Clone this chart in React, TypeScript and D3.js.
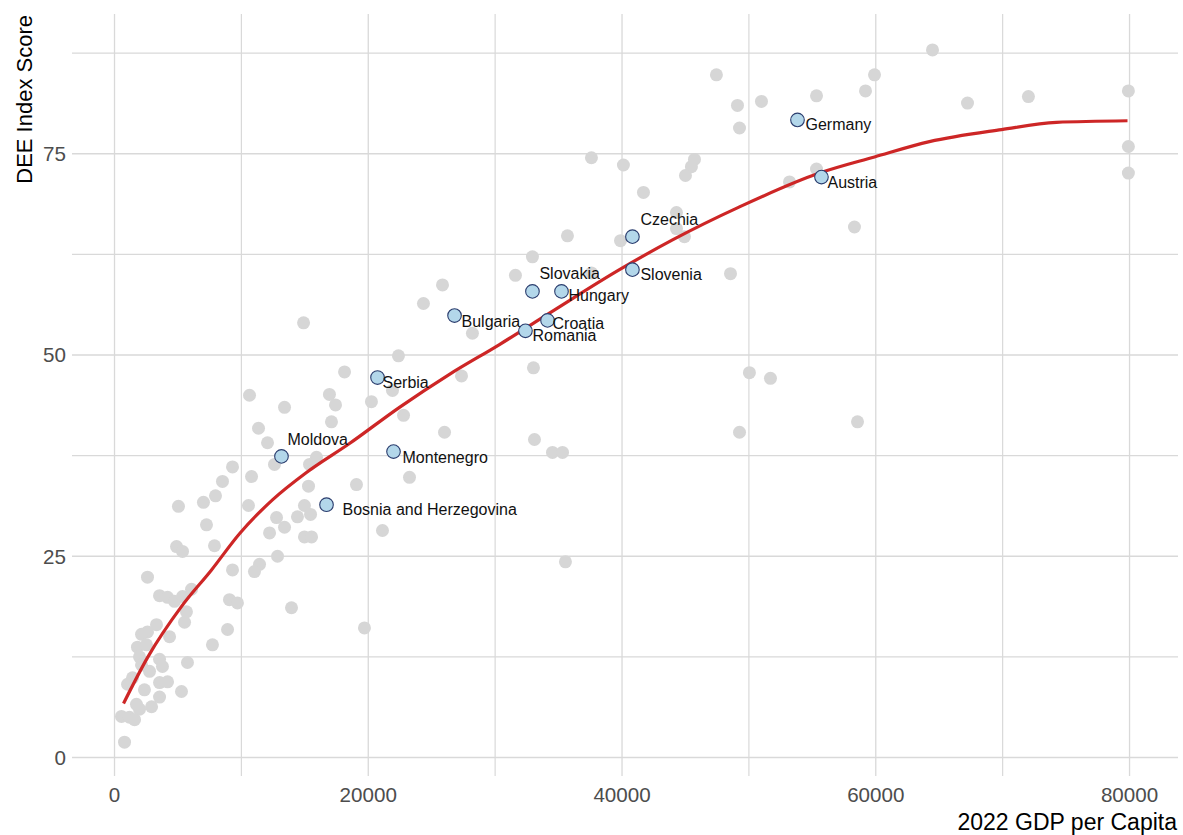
import React from "react";
import * as d3 from "d3";

// Background countries: 2022 GDP per capita and DEE index score
const gdp = [
  64470, 47440, 59900, 59190, 55330, 72030, 50990, 49100, 67230, 49260,
  79910, 79910, 79910, 37590, 40110, 45710, 45470, 45000, 41690, 55330,
  53200, 58320, 35700, 39880, 44290, 44290, 44920, 48550, 32940, 31600,
  25850, 24350, 28210, 33020, 27350, 37590, 50040, 51700, 49260, 58560,
  14900, 22380, 18130, 16940, 17420, 13400, 20250, 21910, 22780, 17100,
  26010, 33100, 34520, 35310, 10640, 11350, 12060, 12610, 15920, 15370,
  9300, 8510, 7960, 7010, 5040, 10800, 10560, 15290, 19070, 14970,
  14420, 15450, 12770, 13400, 12220, 14970, 15530, 21120, 7250, 7880,
  4890, 5360, 12850, 11430, 11030, 9300, 9060, 9690, 13950, 19700,
  35540, 23250, 2600, 3550, 4180, 4730, 5360, 6070, 5670, 5520,
  3310, 2600, 2130, 4340, 1810, 1970, 2130, 3550, 3780, 5750,
  7720, 8910, 1420, 1030, 3550, 4180, 5280, 2360, 3550, 2920,
  1730, 1970, 550, 1180, 1580, 790, 2520, 2760,
];
const dee = [
  87.9, 84.8, 84.8, 82.8, 82.2, 82.1, 81.5, 81.0, 81.3, 78.2,
  82.8, 75.9, 72.6, 74.5, 73.6, 74.3, 73.4, 72.3, 70.2, 73.1,
  71.5, 65.9, 64.8, 64.2, 67.7, 65.7, 64.7, 60.1, 62.2, 59.9,
  58.7, 56.4, 52.7, 48.4, 47.4, 60.2, 47.8, 47.1, 40.4, 41.7,
  54.0, 49.9, 47.9, 45.1, 43.8, 43.5, 44.2, 45.6, 42.5, 41.7,
  40.4, 39.5, 37.9, 37.9, 45.0, 40.9, 39.1, 36.4, 37.3, 36.4,
  36.1, 34.3, 32.5, 31.7, 31.2, 34.9, 31.3, 33.7, 33.9, 31.3,
  29.9, 30.2, 29.8, 28.6, 27.9, 27.4, 27.4, 28.2, 28.9, 26.3,
  26.2, 25.6, 25.0, 24.0, 23.1, 23.3, 19.6, 19.2, 18.6, 16.1,
  24.3, 34.8, 22.4, 20.1, 19.9, 19.4, 20.0, 20.9, 18.1, 16.8,
  16.5, 15.6, 15.3, 15.0, 13.7, 12.5, 11.5, 12.2, 11.3, 11.8,
  14.0, 15.9, 9.9, 9.1, 9.3, 9.4, 8.2, 8.4, 7.5, 6.3,
  6.6, 6.0, 5.1, 5.0, 4.7, 1.9, 14.0, 10.7,
];

// Highlighted countries
const countries = [
  "Moldova", "Bosnia and Herzegovina", "Montenegro", "Serbia", "Bulgaria",
  "Romania", "Croatia", "Slovakia", "Hungary", "Slovenia", "Czechia",
  "Germany", "Austria",
];
const countryGdp = [
  13160, 16710, 21990, 20730, 26800, 32390, 34130, 32940, 35230, 40820,
  40820, 53830, 55720,
];
const countryDee = [
  37.4, 31.4, 38.0, 47.2, 54.9, 53.0, 54.3, 57.9, 57.9, 60.6, 64.7, 79.2,
  72.1,
];
// label offsets in pixels (text start, baseline) relative to point
const labelDx = [6, 16, 9, 5, 7, 7, 5, 7, 7, 8, 8, 8, 6];
const labelDy = [-11, 10, 11, 10, 11, 10, 9, -12, 10, 10, -12, 10, 11];

// Smoothed trend
const trendGdp = [
  710, 2600, 5300, 7645, 9850, 12450, 15130, 18520, 22460, 26400, 30340,
  34280, 39800, 43980, 49260, 55560, 59900, 64230, 69910, 74240, 79840,
];
const trendDee = [
  6.7, 12.4, 18.8, 23.3, 27.8, 32.0, 35.4, 39.0, 43.5, 47.6, 51.3, 55.2,
  60.6, 64.3, 68.4, 72.6, 74.6, 76.5, 78.0, 78.9, 79.1,
];

const xMajor = [0, 20000, 40000, 60000, 80000];
const xMinor = [10000, 30000, 50000, 70000];
const yMajor = [0, 25, 50, 75];
const yMinor = [12.5, 37.5, 62.5, 87.5];

const W = 1183;
const H = 835;
const panel = { left: 72, right: 1178, top: 14, bottom: 776 };

export default function App() {
  const x = d3.scaleLinear().domain([-3350, 83820]).range([panel.left, panel.right]);
  const y = d3.scaleLinear().domain([-2.3, 92.36]).range([panel.bottom, panel.top]);

  const trend = trendGdp.map((g, i) => [g, trendDee[i]] as [number, number]);
  const line = d3
    .line<[number, number]>()
    .x((d) => x(d[0]))
    .y((d) => y(d[1]))
    .curve(d3.curveMonotoneX);

  const gridColor = "#d9d9d9";
  const font = "'Liberation Sans', Arial, sans-serif";

  return (
    <svg
      width={W}
      height={H}
      style={{ position: "absolute", left: 0, top: 0, background: "#fff" }}
      fontFamily={font}
    >
      {/* grid */}
      {yMinor.map((v) => (
        <line key={"ym" + v} x1={panel.left} x2={panel.right} y1={y(v)} y2={y(v)} stroke={gridColor} strokeWidth={1.2} />
      ))}
      {xMinor.map((v) => (
        <line key={"xm" + v} y1={panel.top} y2={panel.bottom} x1={x(v)} x2={x(v)} stroke={gridColor} strokeWidth={1.2} />
      ))}
      {yMajor.map((v) => (
        <line key={"yM" + v} x1={panel.left} x2={panel.right} y1={y(v)} y2={y(v)} stroke={gridColor} strokeWidth={1.3} />
      ))}
      {xMajor.map((v) => (
        <line key={"xM" + v} y1={panel.top} y2={panel.bottom} x1={x(v)} x2={x(v)} stroke={gridColor} strokeWidth={1.3} />
      ))}

      {/* background points */}
      {gdp.map((g, i) => (
        <circle key={"p" + i} cx={x(g)} cy={y(dee[i])} r={6.5} fill="#d6d6d6" />
      ))}

      {/* trend */}
      <path d={line(trend) || ""} fill="none" stroke="#cd2626" strokeWidth={3.2} />

      {/* highlighted */}
      {countries.map((c, i) => (
        <circle
          key={"h" + c}
          cx={x(countryGdp[i])}
          cy={y(countryDee[i])}
          r={6.8}
          fill="#b3d7ea"
          stroke="#2b3d6e"
          strokeWidth={1.1}
        />
      ))}
      {countries.map((c, i) => (
        <text
          key={"l" + c}
          x={x(countryGdp[i]) + labelDx[i]}
          y={y(countryDee[i]) + labelDy[i]}
          fontSize={16}
          fill="#111"
        >
          {c}
        </text>
      ))}

      {/* axis tick labels */}
      {xMajor.map((v) => (
        <text key={"xt" + v} x={x(v)} y={802} textAnchor="middle" fontSize={20.6} fill="#4d4d4d">
          {v}
        </text>
      ))}
      {yMajor.map((v) => (
        <text key={"yt" + v} x={66} y={y(v)} dy="0.36em" textAnchor="end" fontSize={20.6} fill="#4d4d4d">
          {v}
        </text>
      ))}

      {/* axis titles */}
      <text x={1177} y={830} textAnchor="end" fontSize={23} fill="#000">
        2022 GDP per Capita
      </text>
      <text transform="translate(32,15) rotate(-90)" textAnchor="end" fontSize={22} fill="#000">
        DEE Index Score
      </text>
    </svg>
  );
}
